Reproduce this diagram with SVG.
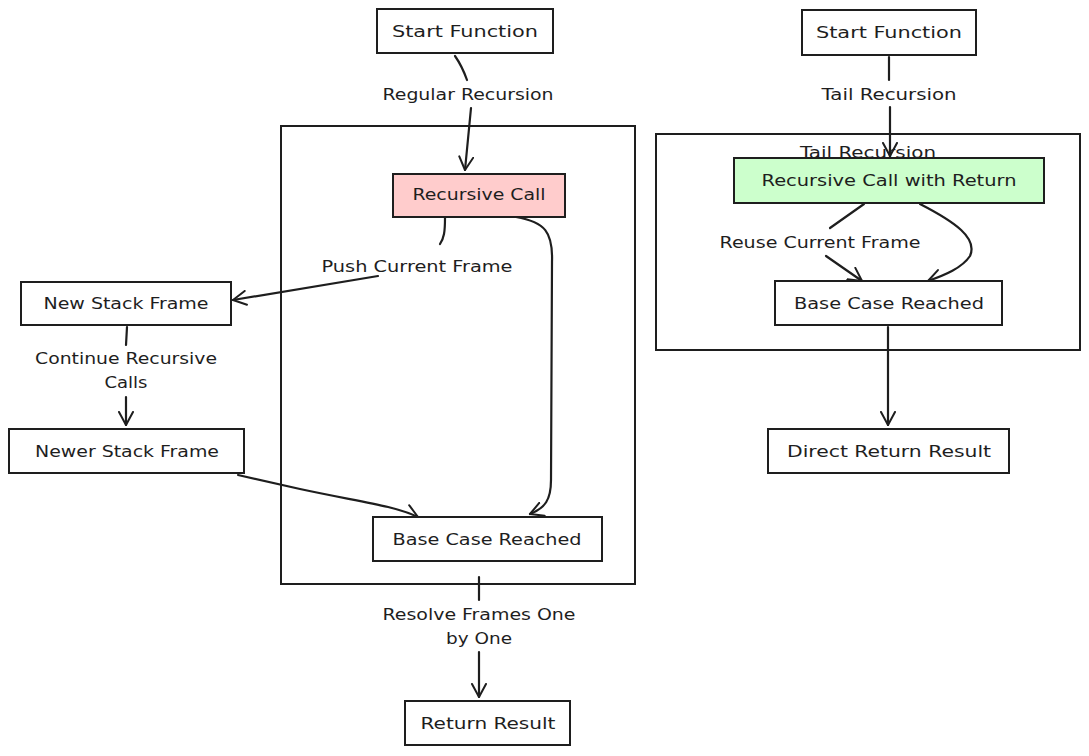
<svg xmlns="http://www.w3.org/2000/svg" width="1089" height="756" viewBox="0 0 1089 756">
  <defs>
    <marker id="arrow" markerUnits="userSpaceOnUse" markerWidth="16" markerHeight="16" refX="14" refY="8" orient="auto">
      <path d="M1,1 L14,8 L1,15" fill="none" stroke="#1e1e1e" stroke-width="2" stroke-linecap="round" stroke-linejoin="round"/>
    </marker>
  </defs>
  <style>
    text { font-family: "DejaVu Sans", "Liberation Sans", sans-serif; font-size: 16px; fill: #1e1e1e; text-anchor: middle; }
    .box { fill: #ffffff; stroke: #1e1e1e; stroke-width: 2; }
    .cluster { fill: none; stroke: #1e1e1e; stroke-width: 2; }
    .pink { fill: #ffcccc; }
    .green { fill: #ccffcc; }
    .edge { fill: none; stroke: #1e1e1e; stroke-width: 2.2; stroke-linecap: round; stroke-linejoin: round; }
    .arrow { marker-end: url(#arrow); }
  </style>

  <rect width="1089" height="756" fill="#ffffff"/>

  <!-- clusters -->
  <g id="cluster-regular">
    <rect class="cluster" x="281" y="126" width="354" height="458"/>
  </g>
  <g id="cluster-tail">
    <rect class="cluster" x="656" y="134" width="424" height="216"/>
    <text x="868" y="158" textLength="136" lengthAdjust="spacingAndGlyphs">Tail Recursion</text>
  </g>

  <!-- connectors -->
  <g id="connectors">
    <!-- regular recursion -->
    <path class="edge" d="M455,56 Q462,66 467,80"/>
    <path class="edge arrow" d="M471,108 L465,170"/>
    <text x="468" y="100" textLength="171" lengthAdjust="spacingAndGlyphs">Regular Recursion</text>

    <path class="edge" d="M445,218 C445,232 444,238 440,244"/>
    <path class="edge arrow" d="M378,276 L233,300"/>
    <text x="417" y="272" textLength="191" lengthAdjust="spacingAndGlyphs">Push Current Frame</text>

    <path class="edge arrow" d="M516,217 C545,222 553,232 552,262 L551,480 C551,500 545,508 530,514"/>

    <path class="edge" d="M127,327 L126,345"/>
    <path class="edge arrow" d="M126,397 L126,425"/>
    <text x="126" y="364" textLength="182" lengthAdjust="spacingAndGlyphs">Continue Recursive</text>
    <text x="126" y="388" textLength="43" lengthAdjust="spacingAndGlyphs">Calls</text>

    <path class="edge arrow" d="M238,475 L300,489 C360,502 392,505 418,517"/>

    <path class="edge" d="M479,577 L479,600"/>
    <path class="edge arrow" d="M479,652 L479,697"/>
    <text x="479" y="620" textLength="193" lengthAdjust="spacingAndGlyphs">Resolve Frames One</text>
    <text x="479" y="644" textLength="66" lengthAdjust="spacingAndGlyphs">by One</text>

    <!-- tail recursion -->
    <path class="edge" d="M889,57 L889,80"/>
    <path class="edge arrow" d="M890,107 L890,156"/>
    <text x="889" y="100" textLength="135" lengthAdjust="spacingAndGlyphs">Tail Recursion</text>

    <path class="edge" d="M864,204 L830,228"/>
    <path class="edge arrow" d="M826,256 L862,281"/>
    <text x="820" y="248" textLength="201" lengthAdjust="spacingAndGlyphs">Reuse Current Frame</text>

    <path class="edge arrow" d="M920,204 C955,222 978,238 970,256 C962,268 945,275 928,281"/>

    <path class="edge arrow" d="M888,327 L888,425"/>
  </g>

  <!-- nodes -->
  <g id="start-regular">
    <rect class="box" x="377" y="9" width="176" height="44"/>
    <text x="465" y="37" textLength="146" lengthAdjust="spacingAndGlyphs">Start Function</text>
  </g>
  <g id="recursive-call">
    <rect class="box pink" x="393" y="174" width="172" height="43"/>
    <text x="479" y="200" textLength="133" lengthAdjust="spacingAndGlyphs">Recursive Call</text>
  </g>
  <g id="new-stack-frame">
    <rect class="box" x="21" y="282" width="210" height="43"/>
    <text x="126" y="309" textLength="165" lengthAdjust="spacingAndGlyphs">New Stack Frame</text>
  </g>
  <g id="newer-stack-frame">
    <rect class="box" x="9" y="429" width="235" height="44"/>
    <text x="127" y="457" textLength="184" lengthAdjust="spacingAndGlyphs">Newer Stack Frame</text>
  </g>
  <g id="base-case-regular">
    <rect class="box" x="373" y="517" width="229" height="44"/>
    <text x="487" y="545" textLength="189" lengthAdjust="spacingAndGlyphs">Base Case Reached</text>
  </g>
  <g id="return-result">
    <rect class="box" x="405" y="701" width="165" height="44"/>
    <text x="488" y="729" textLength="135" lengthAdjust="spacingAndGlyphs">Return Result</text>
  </g>

  <g id="start-tail">
    <rect class="box" x="802" y="10" width="174" height="45"/>
    <text x="889" y="38" textLength="146" lengthAdjust="spacingAndGlyphs">Start Function</text>
  </g>
  <g id="recursive-call-return">
    <rect class="box green" x="734" y="158" width="310" height="45"/>
    <text x="889" y="186" textLength="255" lengthAdjust="spacingAndGlyphs">Recursive Call with Return</text>
  </g>
  <g id="base-case-tail">
    <rect class="box" x="775" y="281" width="227" height="44"/>
    <text x="889" y="309" textLength="190" lengthAdjust="spacingAndGlyphs">Base Case Reached</text>
  </g>
  <g id="direct-return">
    <rect class="box" x="768" y="429" width="241" height="44"/>
    <text x="889" y="457" textLength="204" lengthAdjust="spacingAndGlyphs">Direct Return Result</text>
  </g>
</svg>
